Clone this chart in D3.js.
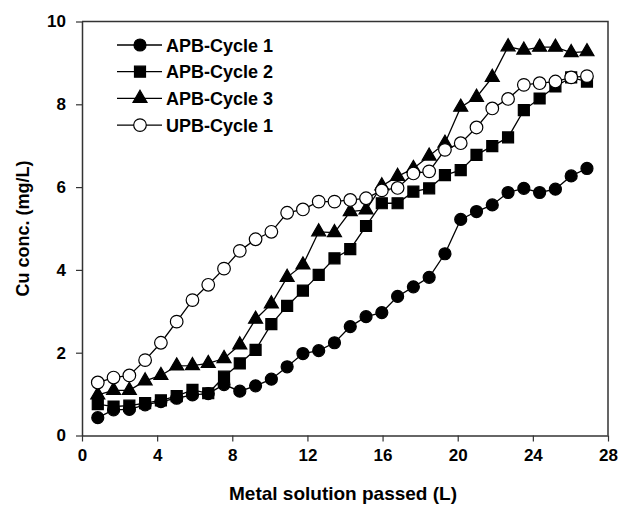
<!DOCTYPE html>
<html>
<head>
<meta charset="utf-8">
<script src="https://cdn.jsdelivr.net/npm/d3@7"></script>
<style>
  html, body { margin: 0; padding: 0; background: #fff; }
  svg { display: block; }
  text { font-family: "Liberation Sans", Arial, sans-serif; font-weight: bold; fill: #000; }
</style>
</head>
<body>
<svg id="chart" width="620" height="506"></svg>
<script>
// Volume of metal solution passed (L) at each sampling point
const volume = [0.84, 1.68, 2.52, 3.36, 4.2, 5.04, 5.88, 6.72, 7.56, 8.4, 9.24, 10.08, 10.92, 11.76, 12.6, 13.44,
                14.28, 15.12, 15.96, 16.8, 17.64, 18.48, 19.32, 20.16, 21.0, 21.84, 22.68, 23.52, 24.36, 25.2, 26.04, 26.88];

// Cu concentration in effluent (mg/L)
const apbCycle1 = [0.43, 0.62, 0.63, 0.74, 0.82, 0.90, 0.98, 1.01, 1.23, 1.07, 1.20, 1.36, 1.66, 1.98, 2.05, 2.24,
                   2.63, 2.87, 2.97, 3.36, 3.59, 3.82, 4.39, 5.22, 5.41, 5.57, 5.87, 5.97, 5.87, 5.95, 6.27, 6.45];
const apbCycle2 = [0.76, 0.70, 0.72, 0.78, 0.85, 0.95, 1.10, 1.02, 1.42, 1.74, 2.07, 2.69, 3.13, 3.50, 3.88, 4.28,
                   4.50, 5.06, 5.61, 5.61, 5.89, 5.97, 6.29, 6.41, 6.78, 6.99, 7.20, 7.86, 8.14, 8.43, 8.65, 8.55];
const apbCycle3 = [0.98, 1.09, 1.09, 1.32, 1.45, 1.68, 1.69, 1.74, 1.86, 2.19, 2.81, 3.18, 3.82, 4.12, 4.92, 4.90,
                   5.41, 5.45, 6.03, 6.26, 6.45, 6.75, 7.06, 7.93, 8.17, 8.65, 9.39, 9.31, 9.38, 9.38, 9.25, 9.27];
const upbCycle1 = [1.28, 1.40, 1.45, 1.82, 2.24, 2.75, 3.27, 3.64, 4.03, 4.46, 4.74, 4.92, 5.38, 5.46, 5.65, 5.65,
                   5.69, 5.73, 5.92, 5.98, 6.33, 6.38, 6.90, 7.06, 7.44, 7.90, 8.13, 8.47, 8.51, 8.55, 8.65, 8.68];

const seriesNames = ["APB-Cycle 1", "APB-Cycle 2", "APB-Cycle 3", "UPB-Cycle 1"];
const seriesValues = [apbCycle1, apbCycle2, apbCycle3, upbCycle1];

const xTicks = [0, 4, 8, 12, 16, 20, 24, 28];
const yTicks = [0, 2, 4, 6, 8, 10];
const xTitle = "Metal solution passed (L)";
const yTitle = "Cu conc. (mg/L)";

// marker style per series
const markers = [
  { type: d3.symbolCircle, size: 113, fill: "#000" },
  { type: d3.symbolSquare, size: 121, fill: "#000" },
  { type: d3.symbolTriangle, size: 85, fill: "#000" },
  { type: d3.symbolCircle, size: 125, fill: "#fff" }
];

const svg = d3.select("#chart");
const plotLeft = 82, plotRight = 608, plotTop = 21.5, plotBottom = 435.5;

const x = d3.scaleLinear().domain([0, 28]).range([plotLeft, plotRight]);
const y = d3.scaleLinear().domain([0, 10]).range([plotBottom, plotTop]);

// frame (top and right edges)
svg.append("path")
  .attr("d", `M${plotLeft},${plotTop}H${plotRight}V${plotBottom}`)
  .attr("fill", "none").attr("stroke", "#333").attr("stroke-width", 1.5);

const xAxis = svg.append("g").attr("transform", `translate(0,${plotBottom})`)
  .call(d3.axisBottom(x).tickValues(xTicks).tickSize(6).tickPadding(7).tickSizeOuter(0));
const yAxis = svg.append("g").attr("transform", `translate(${plotLeft},0)`)
  .call(d3.axisLeft(y).tickValues(yTicks).tickSize(6).tickPadding(10).tickSizeOuter(0));

[xAxis, yAxis].forEach(g => {
  g.select(".domain").attr("stroke", "#333").attr("stroke-width", 1.5);
  g.selectAll(".tick line").attr("stroke", "#333").attr("stroke-width", 1.2);
  g.selectAll(".tick text").attr("font-size", 17).attr("font-family", "Liberation Sans, Arial, sans-serif")
    .attr("font-weight", "bold").attr("fill", "#000");
});

svg.append("text").attr("x", 343).attr("y", 500)
  .attr("text-anchor", "middle").attr("font-size", 19).text(xTitle);
svg.append("text").attr("transform", `translate(29,${(plotTop + plotBottom) / 2}) rotate(-90)`)
  .attr("text-anchor", "middle").attr("font-size", 18).text(yTitle);

const line = d3.line().x((d, i) => x(volume[i])).y(d => y(d));

seriesValues.forEach((vals, s) => {
  const g = svg.append("g");
  g.append("path").attr("d", line(vals))
    .attr("fill", "none").attr("stroke", "#000").attr("stroke-width", 1.3);
  g.selectAll("path.pt").data(vals).join("path").attr("class", "pt")
    .attr("transform", (d, i) => `translate(${x(volume[i])},${y(d)})`)
    .attr("d", d3.symbol().type(markers[s].type).size(markers[s].size))
    .attr("fill", markers[s].fill).attr("stroke", "#000").attr("stroke-width", 1.2);
});

// legend
const legend = svg.append("g");
seriesNames.forEach((name, s) => {
  const ly = 45 + s * 26.7;
  legend.append("line").attr("x1", 117).attr("x2", 162).attr("y1", ly).attr("y2", ly)
    .attr("stroke", "#000").attr("stroke-width", 1.3);
  legend.append("path").attr("transform", `translate(140,${ly})`)
    .attr("d", d3.symbol().type(markers[s].type).size(markers[s].size))
    .attr("fill", markers[s].fill).attr("stroke", "#000").attr("stroke-width", 1.2);
  legend.append("text").attr("x", 166).attr("y", ly + 6.5).attr("font-size", 18).text(name);
});
</script>
</body>
</html>
